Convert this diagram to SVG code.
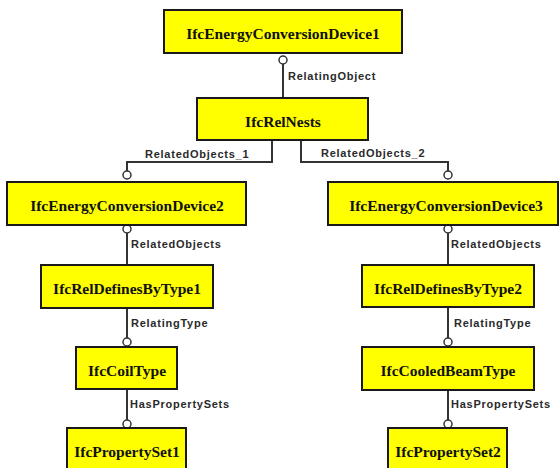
<svg xmlns="http://www.w3.org/2000/svg" width="560" height="468" viewBox="0 0 560 468">
<style>
.box{fill:#ffff00;stroke:#1a1a1a;stroke-width:2}
.t{font-family:"Liberation Serif","Times New Roman",serif;font-weight:bold;font-size:15.5px;fill:#111;text-anchor:middle}
.c{fill:none;stroke:#333;stroke-width:2}
.o{fill:#fff;stroke:#333;stroke-width:1.5}
.l{font-family:"Liberation Sans",Arial,sans-serif;font-size:11px;font-weight:bold;fill:#2a2a2a;letter-spacing:0.75px}
</style>
<rect width="560" height="468" fill="#fff"/>
<g id="connectors">
<path class="c" d="M283,64 V98"/><circle class="o" cx="283" cy="60" r="4"/>
<text class="l" x="288" y="80">RelatingObject</text>
<path class="c" d="M272,140 V162 H127 V171"/><circle class="o" cx="127" cy="175" r="4"/>
<text class="l" x="145" y="158">RelatedObjects_1</text>
<path class="c" d="M301,140 V162 H448 V171"/><circle class="o" cx="448" cy="175" r="4"/>
<text class="l" x="321" y="157">RelatedObjects_2</text>
<path class="c" d="M127,233 V265"/><circle class="o" cx="127" cy="229" r="4"/>
<text class="l" x="131" y="248">RelatedObjects</text>
<path class="c" d="M448,233 V265"/><circle class="o" cx="448" cy="229" r="4"/>
<text class="l" x="451" y="248">RelatedObjects</text>
<path class="c" d="M127,308 V338"/><circle class="o" cx="127" cy="342" r="4"/>
<text class="l" x="131" y="327">RelatingType</text>
<path class="c" d="M448,307 V338"/><circle class="o" cx="448" cy="342" r="4"/>
<text class="l" x="454" y="327">RelatingType</text>
<path class="c" d="M127,389 V420"/><circle class="o" cx="127" cy="424" r="4"/>
<text class="l" x="130" y="408">HasPropertySets</text>
<path class="c" d="M448,390 V420"/><circle class="o" cx="448" cy="424" r="4"/>
<text class="l" x="451" y="408">HasPropertySets</text>
</g>
<g id="n1"><rect class="box" x="164" y="10" width="238" height="43"/><text class="t" x="283" y="39">IfcEnergyConversionDevice1</text></g>
<g id="n2"><rect class="box" x="197" y="98" width="171" height="42"/><text class="t" x="283" y="127">IfcRelNests</text></g>
<g id="n3"><rect class="box" x="7" y="182" width="239" height="43"/><text class="t" x="127" y="211">IfcEnergyConversionDevice2</text></g>
<g id="n4"><rect class="box" x="41" y="265" width="172" height="43"/><text class="t" x="127" y="294">IfcRelDefinesByType1</text></g>
<g id="n5"><rect class="box" x="328" y="182" width="230" height="43"/><text class="t" x="446" y="211">IfcEnergyConversionDevice3</text></g>
<g id="n6"><rect class="box" x="362" y="265" width="172" height="42"/><text class="t" x="448" y="294">IfcRelDefinesByType2</text></g>
<g id="n7"><rect class="box" x="76" y="347" width="101" height="42"/><text class="t" x="127" y="376">IfcCoilType</text></g>
<g id="n8"><rect class="box" x="67" y="428" width="119" height="46"/><text class="t" x="127" y="457">IfcPropertySet1</text></g>
<g id="n9"><rect class="box" x="362" y="347" width="172" height="43"/><text class="t" x="448" y="376">IfcCooledBeamType</text></g>
<g id="n10"><rect class="box" x="388" y="428" width="119" height="46"/><text class="t" x="448" y="457">IfcPropertySet2</text></g>
</svg>
